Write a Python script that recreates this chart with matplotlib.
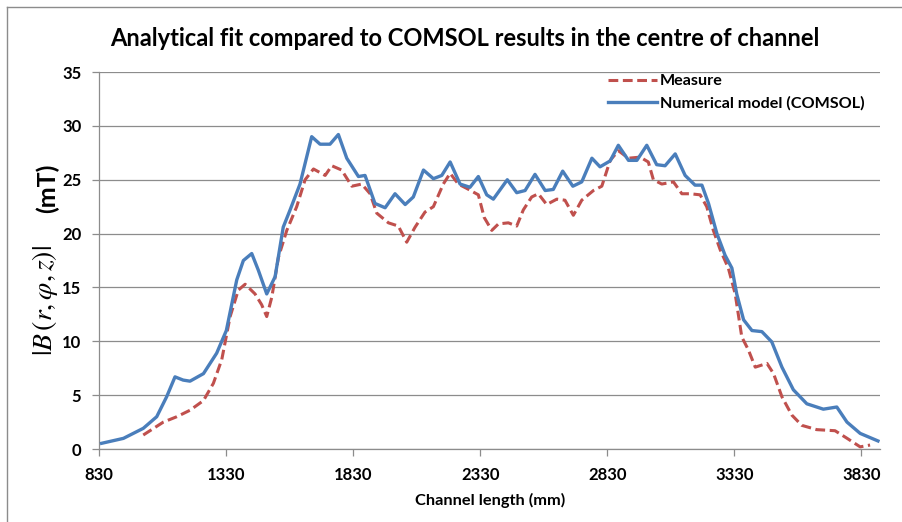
import numpy as np
import matplotlib
matplotlib.use("Agg")
import matplotlib.pyplot as plt
from matplotlib.lines import Line2D

plt.rcParams['font.family'] = ['Lato', 'DejaVu Sans']
plt.rcParams['mathtext.fontset'] = 'stix'

# ── data ───────────────────────────────────────────────────────
comsol_x = [839, 925, 1003, 1056, 1095, 1128, 1160, 1187, 1240, 1292, 1330, 1371, 1397, 1430,
            1456, 1489, 1522, 1554, 1581, 1620, 1666, 1699, 1738, 1771, 1804, 1850, 1876,
            1915, 1955, 1994, 2034, 2066, 2106, 2145, 2178, 2211, 2250, 2289, 2322, 2355,
            2381, 2436, 2473, 2506, 2545, 2585, 2617, 2654, 2694, 2729, 2769, 2801, 2841,
            2873, 2913, 2946, 2985, 3024, 3057, 3097, 3136, 3175, 3202, 3228, 3261, 3293,
            3320, 3339, 3366, 3399, 3438, 3477, 3517, 3562, 3615, 3680, 3733, 3773, 3825, 3895]
comsol_y = [0.53, 0.99, 1.92, 3.0, 4.85, 6.7, 6.4, 6.3, 7.0, 8.9, 11.0, 15.7, 17.5, 18.15,
            16.6, 14.4, 16.0, 20.6, 22.2, 24.6, 29.0, 28.3, 28.3, 29.2, 27.0, 25.3, 25.4,
            22.8, 22.4, 23.7, 22.7, 23.4, 25.9, 25.1, 25.4, 26.65, 24.6, 24.3, 25.3, 23.6,
            23.2, 25.0, 23.8, 24.0, 25.5, 24.0, 24.1, 25.8, 24.4, 24.8, 27.0, 26.2, 26.75,
            28.2, 26.8, 26.8, 28.2, 26.4, 26.3, 27.4, 25.4, 24.5, 24.5, 22.8, 20.0, 18.0,
            16.8, 14.4, 12.0, 11.0, 10.9, 9.95, 7.6, 5.5, 4.2, 3.7, 3.9, 2.5, 1.45, 0.75]

measure_x = [1003, 1082, 1135, 1187, 1240, 1279, 1312, 1345, 1377, 1404, 1443, 1469, 1489,
             1509, 1535, 1568, 1607, 1640, 1673, 1719, 1745, 1784, 1824, 1863, 1896, 1922,
             1968, 2007, 2040, 2073, 2112, 2145, 2184, 2211, 2243, 2276, 2322, 2345, 2375,
             2401, 2440, 2473, 2499, 2532, 2558, 2591, 2631, 2663, 2696, 2729, 2775, 2808,
             2841, 2873, 2913, 2959, 2991, 3011, 3044, 3090, 3123, 3156, 3195, 3221, 3247,
             3274, 3306, 3333, 3359, 3385, 3412, 3458, 3484, 3517, 3556, 3595, 3654, 3726,
             3773, 3825, 3864]
measure_y = [1.3, 2.5, 3.0, 3.6, 4.5, 6.1, 8.3, 12.3, 14.75, 15.3, 14.4, 13.4, 12.3,
             14.1, 17.8, 20.3, 22.5, 25.0, 26.0, 25.4, 26.3, 25.9, 24.4, 24.6, 23.7, 21.9,
             21.0, 20.7, 19.2, 20.6, 22.0, 22.5, 24.6, 25.6, 24.6, 24.2, 23.6, 21.5, 20.3,
             20.9, 21.0, 20.7, 22.2, 23.4, 23.7, 22.7, 23.2, 23.1, 21.7, 23.1, 24.0, 24.4,
             26.8, 27.7, 27.0, 27.1, 26.65, 25.0, 24.6, 24.8, 23.7, 23.7, 23.6, 22.5, 20.3,
             18.5, 16.8, 14.4, 10.4, 9.2, 7.6, 7.95, 7.0, 4.85, 3.15, 2.2, 1.8, 1.7,
             1.0, 0.2, 0.37]

x_ticks = [830, 1330, 1830, 2330, 2830, 3330, 3830]
y_ticks = [0, 5, 10, 15, 20, 25, 30, 35]

BLUE = "#4a7ebb"
RED = "#c0504d"
GRID = "#8c8c8c"

fig = plt.figure(figsize=(9.02, 5.22), dpi=100)
ax = fig.add_axes([0.1101, 0.1398, 0.8655, 0.7222])

ax.plot(measure_x, measure_y, color=RED, lw=2.2, dashes=(3.2, 1.5), label="Measure", zorder=3)
ax.plot(comsol_x, comsol_y, color=BLUE, lw=2.4, label="Numerical model (COMSOL)", zorder=4)

ax.set_xlim(830, 3903)
ax.set_ylim(0, 35)
ax.set_xticks(x_ticks)
ax.set_yticks(y_ticks)
ax.grid(axis="y", color=GRID, lw=0.9)
ax.set_axisbelow(True)
for s in ["top", "right"]:
    ax.spines[s].set_visible(False)
for s in ["left", "bottom"]:
    ax.spines[s].set_color(GRID)
    ax.spines[s].set_linewidth(0.9)
ax.tick_params(axis="both", color=GRID, length=5, width=0.9, labelsize=12)
ax.tick_params(axis="x", pad=8)
ax.tick_params(axis="y", pad=8)
for lab in ax.get_xticklabels() + ax.get_yticklabels():
    lab.set_fontweight("bold")

ax.set_xlabel("Channel length (mm)", fontsize=11.8, fontweight="bold", labelpad=7)

# y label in two parts: large math symbol, then the unit
fig.text(45 / 902, 1 - 301 / 522, r"$|B\,(r,\varphi,z)|$", rotation=90,
         ha="center", va="center", fontsize=20)
fig.text(47 / 902, 1 - 188 / 522, "(mT)", rotation=90,
         ha="center", va="center", fontsize=18, fontweight="bold")

fig.text(465 / 902, 1 - 38 / 522, "Analytical fit compared to COMSOL results in the centre of channel",
         ha="center", va="center", fontsize=17, fontweight="bold")

ax.legend(loc="upper left", bbox_to_anchor=(0.652, 0.995), frameon=False, borderpad=0,
          borderaxespad=0, handlelength=3.0, handletextpad=0.2, labelspacing=0.5,
          prop={"weight": "bold", "size": 11.6})

# chart-area border (left and top edges visible in the reference)
fig.add_artist(Line2D([7 / 902, 7 / 902], [0, 1 - 7 / 522], transform=fig.transFigure, color="#8c8c8c", lw=1))
fig.add_artist(Line2D([7 / 902, 1], [1 - 7 / 522, 1 - 7 / 522], transform=fig.transFigure, color="#8c8c8c", lw=1))

fig.savefig("out.png", dpi=100)
